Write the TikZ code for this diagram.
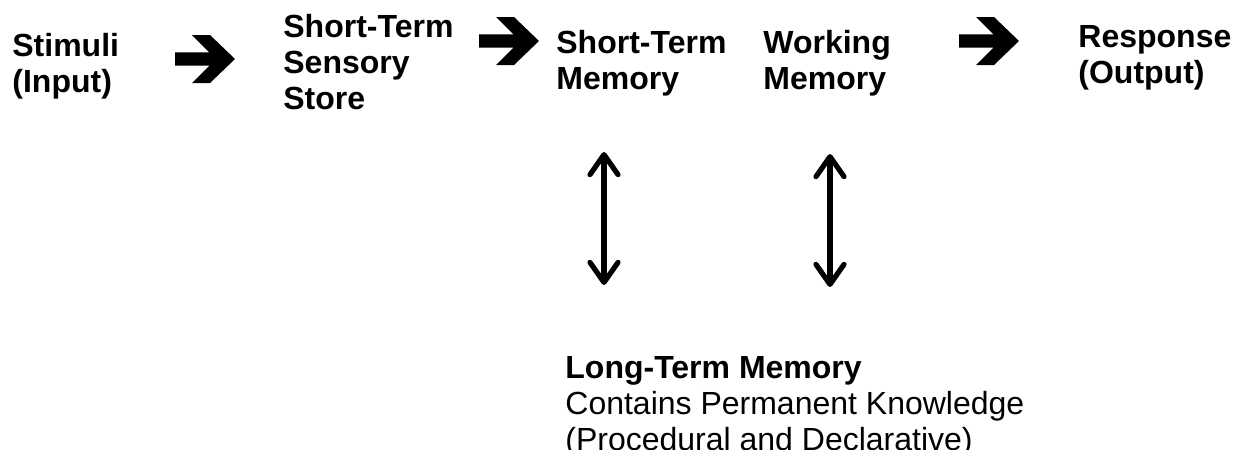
\documentclass[tikz,border=0pt]{standalone}
\usepackage{fontspec}
\setmainfont{Liberation Sans}
\usetikzlibrary{arrows.meta}

\begin{document}
\begin{tikzpicture}[x=0.5pt, y=-0.5pt, >={Straight Barb[round, length=10pt, width=14pt]},
        stage_style/.style={anchor=north west, inner sep=0pt, align=left, font=\fontsize{16}{18}\selectfont\bfseries},
        store_style/.style={anchor=north west, inner sep=0pt, align=left, font=\fontsize{16}{18}\selectfont},
        link_style/.style={draw=black, line width=2.6pt, <->},
        flow_arrow/.pic={\fill[black] (0,-6.7) -- (34.3,-6.7) -- (17,-24) -- (35,-24) -- (60,0)
                -- (35,24) -- (17,24) -- (34.3,6.7) -- (0,6.7) -- cycle;}]

        \useasboundingbox (0,0) rectangle (1233,450);

        \node [stage_style](stim) at (12,33) {Stimuli\\(Input)};
        \node [stage_style](stss) at (283,14) {Short-Term\\Sensory\\Store};
        \node [stage_style](stm) at (556,30) {Short-Term\\Memory};
        \node [stage_style](wm) at (763,30) {Working\\Memory};
        \node [stage_style](resp) at (1078,25) {Response\\(Output)};
        \node [store_style](ltm) at (565,356) {\textbf{Long-Term Memory}\\Contains Permanent Knowledge\\(Procedural and Declarative)};

        \pic (a1) at (175,59) {flow_arrow};
        \pic (a2) at (479,41) {flow_arrow};
        \pic (a3) at (959,41) {flow_arrow};

        \coordinate (stm_top) at (604,152);
        \coordinate (stm_bot) at (604,285);
        \coordinate (wm_top) at (830,154);
        \coordinate (wm_bot) at (830,287);
        \draw [link_style] (stm_top) -- (stm_bot);
        \draw [link_style] (wm_top) -- (wm_bot);
\end{tikzpicture}
\end{document}
